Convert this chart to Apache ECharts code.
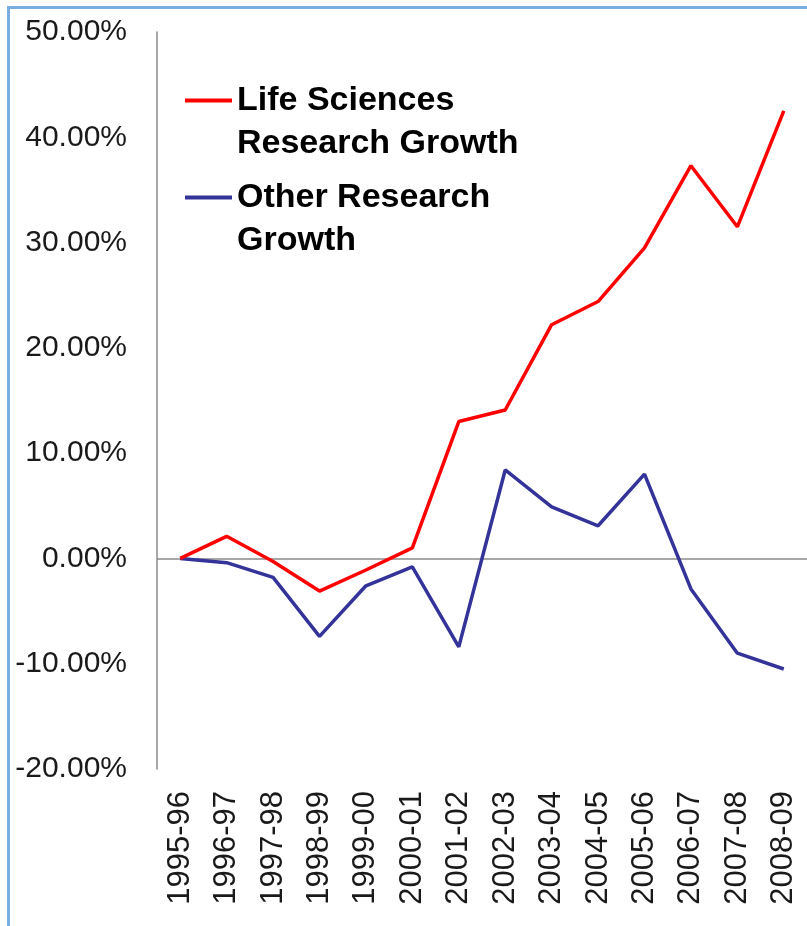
<!DOCTYPE html>
<html>
<head>
<meta charset="utf-8">
<script src="https://cdn.jsdelivr.net/npm/echarts@6/dist/echarts.min.js"></script>
<style>
  html, body { margin: 0; padding: 0; background: #fff; }
  #chart { width: 807px; height: 926px; }
</style>
</head>
<body>
<div id="chart"></div>
<script>
// fiscal years on the category axis
const years = ['1995-96', '1996-97', '1997-98', '1998-99', '1999-00', '2000-01', '2001-02',
  '2002-03', '2003-04', '2004-05', '2005-06', '2006-07', '2007-08', '2008-09'];

// growth in percent
const lifeSciences = [0, 2.1, -0.3, -3.1, -1.1, 1.0, 13.0, 14.1, 22.2, 24.4, 29.5, 37.3, 31.5, 42.5];
const otherResearch = [0, -0.4, -1.8, -7.4, -2.6, -0.8, -8.4, 8.4, 4.9, 3.1, 8.0, -2.9, -9.0, -10.5];

const yMin = -20;
const yMax = 50;
const yStep = 10;

const lifeName = 'Life Sciences\nResearch Growth';
const otherName = 'Other Research\nGrowth';

const chart = echarts.init(document.getElementById('chart'));

// legend text is centred on the icon, so an empty first line
// pushes the first real line level with the coloured line
const legendText = {
  fontFamily: 'Liberation Sans, Arial, sans-serif',
  fontSize: 34,
  fontWeight: 'bold',
  color: '#000',
  lineHeight: 43,
};

function legendFor(name, top) {
  return {
    data: [name],
    left: 185,
    top: top,
    icon: 'rect',
    itemWidth: 47,
    itemHeight: 4,
    itemGap: 0,
    padding: 0,
    formatter: (n) => '\n' + n,
    textStyle: legendText,
  };
}

const option = {
  animation: false,
  backgroundColor: '#fff',
  graphic: [
    {
      type: 'rect',
      left: 6,
      top: 5,
      shape: { width: 900, height: 1000 },
      style: { fill: 'none', stroke: '#7aaee0', lineWidth: 3 },
      silent: true,
    },
  ],
  grid: { left: 157, top: 32, right: -7, bottom: 157 },
  legend: [legendFor(lifeName, 36), legendFor(otherName, 133)],
  xAxis: {
    type: 'category',
    data: years,
    boundaryGap: true,
    axisLine: { show: false, onZero: false },
    axisTick: { show: false },
    axisLabel: {
      rotate: 90,
      margin: 22,
      fontFamily: 'Liberation Sans, Arial, sans-serif',
      fontSize: 31,
      color: '#1a1a1a',
    },
    splitLine: { show: false },
  },
  yAxis: {
    type: 'value',
    min: yMin,
    max: yMax,
    interval: yStep,
    axisLine: { show: true, lineStyle: { color: '#8a8a8a', width: 1.5 } },
    axisTick: { show: false },
    axisLabel: {
      margin: 30,
      fontFamily: 'Liberation Sans, Arial, sans-serif',
      fontSize: 30,
      color: '#1a1a1a',
      formatter: (v) => v.toFixed(2) + '%',
    },
    splitLine: { show: false },
  },
  series: [
    {
      name: lifeName,
      type: 'line',
      data: lifeSciences,
      symbol: 'none',
      z: 3,
      lineStyle: { color: '#ff0000', width: 3.5 },
      itemStyle: { color: '#ff0000' },
      markLine: {
        silent: true,
        symbol: 'none',
        label: { show: false },
        lineStyle: { color: '#8a8a8a', width: 1.5, type: 'solid' },
        data: [{ yAxis: 0 }],
        z: 1,
      },
    },
    {
      name: otherName,
      type: 'line',
      data: otherResearch,
      symbol: 'none',
      z: 2,
      lineStyle: { color: '#333399', width: 3.5 },
      itemStyle: { color: '#333399' },
    },
  ],
};

chart.setOption(option);
</script>
</body>
</html>
